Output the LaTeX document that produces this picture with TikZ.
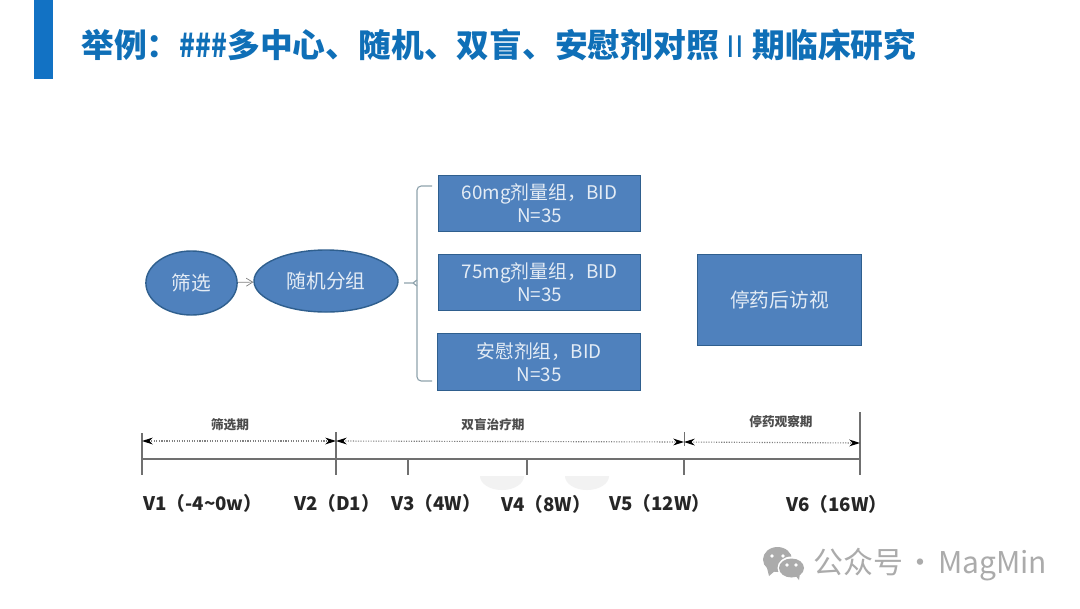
\documentclass[tikz,border=0pt]{standalone}
\usepackage{fontspec}
\usepackage{xcolor}
\usetikzlibrary{arrows.meta,positioning,shapes.geometric}
\newfontfamily\cjkfont{Noto Sans CJK SC}
\definecolor{barblue}{HTML}{1272C4}
\definecolor{titleblue}{HTML}{0F6FB7}
\definecolor{boxblue}{HTML}{4F81BD}
\definecolor{boxedge}{HTML}{2F5F8E}
\definecolor{boxtext}{HTML}{E4ECF5}
\definecolor{axisgray}{HTML}{707070}
\definecolor{markgray}{HTML}{ABABAB}
\definecolor{bracketgray}{HTML}{8FA3AD}
\newcommand{\hash}{\scalebox{0.8}[1]{\#}}

\begin{document}
\begin{tikzpicture}[
  x=0.025cm, y=-0.025cm,
  every node/.style={font=\cjkfont},
  armbox/.style={draw=boxedge, line width=0.8pt, fill=boxblue, text=boxtext, align=center,
    inner sep=0pt, font=\cjkfont\fontsize{13.4}{16.6}\selectfont},
  oval/.style={ellipse, draw=boxedge, line width=1pt, fill=boxblue, text=boxtext, inner sep=0pt,
    font=\cjkfont\fontsize{14}{17}\selectfont},
  axis/.style={draw=axisgray, line width=1.2pt},
  span/.style={densely dotted, draw=gray, line width=0.8pt,
    {Stealth[length=2.7mm,width=1.7mm,black]}-{Stealth[length=2.7mm,width=1.7mm,black]}},
  phase/.style={text=black!70, font=\cjkfont\bfseries\fontsize{9}{11}\selectfont},
  visit/.style={text=black!85, font=\cjkfont\bfseries\fontsize{13.3}{15}\selectfont},
]
  \useasboundingbox (0,0) rectangle (1080,608);
  \fill[white] (0,0) rectangle (1080,608);

  % Title
  \fill[barblue] (34,0) rectangle (53,79);
  \node[anchor=west, inner sep=0pt, text=titleblue, font=\cjkfont\bfseries\fontsize{23.3}{28}\selectfont]
    (title) at (81,45) {举例：\hash\hash\hash 多中心、随机、双盲、安慰剂对照\kern5.5pt{\mdseries\fontsize{21}{21}\selectfont I\kern0.5pt I}\kern5.7pt 期临床研究};

  % Flow
  \node[oval, minimum width=2.28cm, minimum height=1.6cm] (screen) at (191.5,283) {筛选};
  \node[oval, minimum width=3.6cm, minimum height=1.55cm] (rand) at (326,281) {随机分组};
  \draw[-{Straight Barb[length=1.6mm,width=2mm]}, draw=gray, line width=0.5pt] (screen) -- (rand);

  % Arms
  \node[armbox, minimum width=5.05cm, minimum height=1.4cm] (arma) at (539.5,203.5) {60mg剂量组，BID\\N=35};
  \node[armbox, minimum width=5.05cm, minimum height=1.4cm] (armb) at (539.5,282.5) {75mg剂量组，BID\\N=35};
  \node[armbox, minimum width=5.075cm, minimum height=1.425cm] (armc) at (539,362) {安慰剂组，BID\\N=35};
  \node[armbox, minimum width=4.1cm, minimum height=2.275cm, font=\cjkfont\fontsize{14}{17}\selectfont]
    (follow) at (779.5,300) {停药后访视};

  % Bracket
  \coordinate (tip) at (404,283);
  \coordinate (topend) at (432,186);
  \coordinate (botend) at (432,381);
  \draw[draw=bracketgray, line width=0.8pt, rounded corners=3pt]
    (topend) -- (417,186) -- (417,381) -- (botend);
  \draw[draw=bracketgray, line width=0.8pt] (tip) -- (413,283) -- (417,280);
  \draw[draw=bracketgray, line width=0.8pt] (413,283) -- (417,286);

  % Faint marks under the axis
  \fill[black!5] (480,476) arc[start angle=180, end angle=0, x radius=22, y radius=14] -- cycle;
  \fill[black!5] (565,476) arc[start angle=180, end angle=0, x radius=22, y radius=14] -- cycle;

  % Timeline
  \foreach \name/\px/\ptop in {va/142/433, vb/336/432, vc/408/459, vd/527/459, ve/684/459, vf/860/412}{
    \coordinate (\name top) at (\px,\ptop);
    \coordinate (\name bot) at (\px,475);
    \draw[axis] (\name top) -- (\name bot);
  }
  \draw[axis] (vatop |- 0,459) -- (vftop |- 0,459);
  \coordinate (vemark) at (684,432);
  \coordinate (vemarkb) at (684,446);
  \draw[draw=axisgray, line width=0.5pt] (vemark) -- (vemarkb);

  \coordinate (sa) at (142,441);
  \coordinate (sb) at (336,441);
  \coordinate (sc) at (684,442);
  \coordinate (sd) at (860,443);
  \draw[span] (sa) -- (sb);
  \draw[span] (sb) -- (sc);
  \draw[span] (sc) -- (sd);

  \node[phase] (phasea) at (230,425) {筛选期};
  \node[phase] (phaseb) at (493,425) {双盲治疗期};
  \node[phase] (phasec) at (781,422) {停药观察期};

  \node[visit] (labela) at (203,503) {V1（-4\textasciitilde 0w）};
  \node[visit] (labelb) at (337,503) {V2（D1）};
  \node[visit] (labelc) at (436,503) {V3（4W）};
  \node[visit] (labeld) at (546,504) {V4（8W）};
  \node[visit] (labele) at (660,503) {V5（12W）};
  \node[visit] (labelf) at (837,504) {V6（16W）};

  % Watermark
  \fill[markgray] (777.5,559.5) ellipse[x radius=14.5, y radius=12.5];
  \fill[markgray] (767,568) -- (769,576) -- (776,570) -- cycle;
  \fill[white] (791.5,568) ellipse[x radius=14, y radius=11.5];
  \fill[markgray] (791.5,568) ellipse[x radius=12.5, y radius=9.5];
  \fill[markgray] (795,575) -- (799,580) -- (800,573) -- cycle;
  \foreach \ex/\ey/\ec in {772/556/white, 783/556/white, 787/565/white, 796/565/white}{
    \fill[\ec] (\ex,\ey) circle (1.8);
  }
  \node[anchor=west, inner sep=0pt, text=markgray, font=\cjkfont\fontsize{21.3}{24}\selectfont]
    (mark) at (813,565) {公众号\kern-3pt{} · \kern-3pt MagMin};
\end{tikzpicture}
\end{document}
